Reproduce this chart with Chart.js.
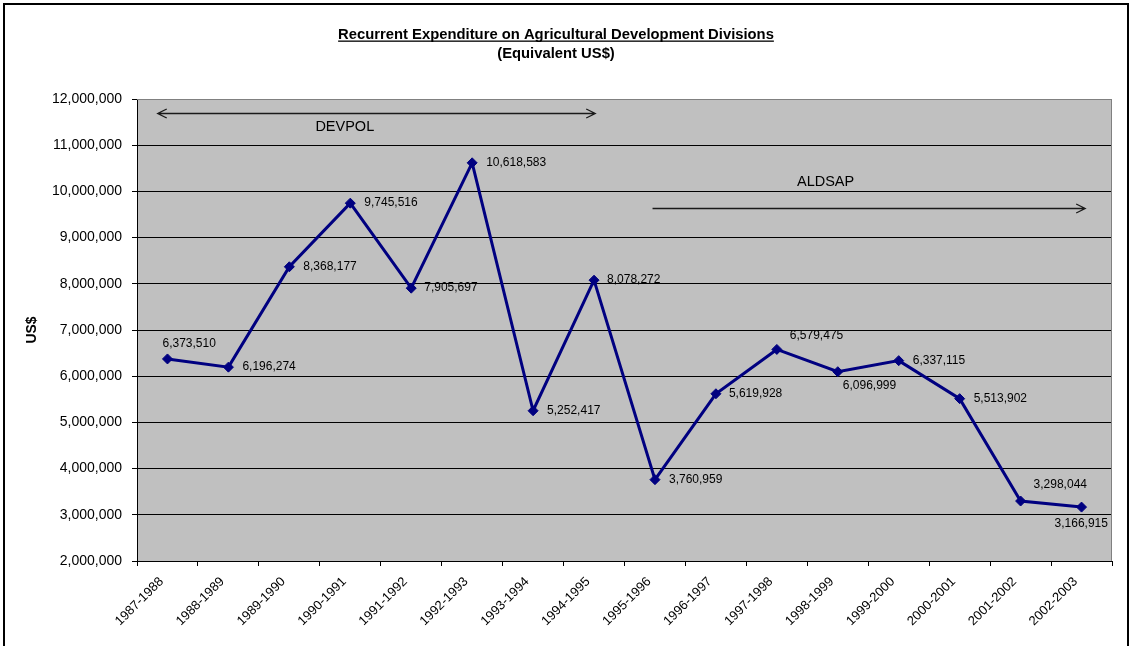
<!DOCTYPE html>
<html>
<head>
<meta charset="utf-8">
<title>Recurrent Expenditure on Agricultural Development Divisions</title>
<script src="https://cdn.jsdelivr.net/npm/chart.js@4.4.1/dist/chart.umd.min.js"></script>
<style>
	html, body { margin: 0; padding: 0; background: #fff; }
	#wrap { width: 1133px; height: 646px; }
</style>
</head>
<body>
<div id="wrap"><canvas id="graficoDespesa" width="1133" height="646"></canvas></div>
<script>
var periodos = ['1987-1988', '1988-1989', '1989-1990', '1990-1991', '1991-1992', '1992-1993',
	'1993-1994', '1994-1995', '1995-1996', '1996-1997', '1997-1998', '1998-1999',
	'1999-2000', '2000-2001', '2001-2002', '2002-2003'];
var despesas = [6373510, 6196274, 8368177, 9745516, 7905697, 10618583, 5252417, 8078272,
	3760959, 5619928, 6579475, 6096999, 6337115, 5513902, 3298044, 3166915];
var eixoY = { min: 2000000, max: 12000000, passo: 1000000 };
var titulo = 'Recurrent Expenditure on Agricultural Development Divisions';
var subtitulo = '(Equivalent US$)';
var tituloEixoY = 'US$';
var periodosPrograma = [
	{ nome: 'DEVPOL', inicio: -0.16, fim: 7.02, nivelSeta: 11700000, xTexto: 2.91, nivelTexto: 11390000, duasPontas: true },
	{ nome: 'ALDSAP', inicio: 7.96, fim: 15.06, nivelSeta: 9640000, xTexto: 10.80, nivelTexto: 10200000, duasPontas: false }
];

// deslocamento (px) do rotulo de cada ponto: [dx, dy]
var deslocRotulo = [[-5, -15], [14, 0], [14, 0], [14, 0], [13, 0], [14, 0], [14, 0], [13, 0],
	[14, 0], [13, 0], [13, -14], [5, 14], [14, 0], [14, 0], [13, -16], [-27, 17]];

var FONTE = '"Liberation Sans", Arial, sans-serif';

function formatar(v) {
	return v.toLocaleString('en-US');
}

var pluginFundo = {
	id: 'fundo',
	beforeDraw: function(chart) {
		var ctx = chart.ctx, a = chart.chartArea;
		ctx.save();
		ctx.fillStyle = '#c0c0c0';
		ctx.fillRect(a.left, a.top, a.right - a.left, a.bottom - a.top);
		ctx.restore();
	},
	afterDraw: function(chart) {
		var ctx = chart.ctx, a = chart.chartArea;
		ctx.save();
		// borda cinza superior/direita da area
		ctx.strokeStyle = '#808080';
		ctx.lineWidth = 1;
		ctx.beginPath();
		ctx.moveTo(a.left, a.top + 0.5);
		ctx.lineTo(a.right - 0.5, a.top + 0.5);
		ctx.lineTo(a.right - 0.5, a.bottom);
		ctx.stroke();

		// moldura externa
		ctx.strokeStyle = '#000';
		ctx.lineWidth = 2;
		ctx.strokeRect(4, 4, 1124, 660);

		// titulo
		ctx.fillStyle = '#000';
		ctx.textAlign = 'center';
		ctx.textBaseline = 'alphabetic';
		ctx.font = 'bold 14.8px ' + FONTE;
		var cx = 556;
		ctx.fillText(titulo, cx, 39);
		var w = ctx.measureText(titulo).width;
		ctx.fillRect(cx - w / 2, 40.5, w, 1.3);
		ctx.fillText(subtitulo, cx, 58);
		ctx.restore();
	}
};

var pluginRotulos = {
	id: 'rotulos',
	afterDatasetsDraw: function(chart) {
		var ctx = chart.ctx;
		var meta = chart.getDatasetMeta(0);
		ctx.save();
		ctx.font = '12px ' + FONTE;
		ctx.fillStyle = '#000';
		ctx.textAlign = 'left';
		ctx.textBaseline = 'middle';
		meta.data.forEach(function(ponto, i) {
			var d = deslocRotulo[i];
			ctx.fillText(formatar(despesas[i]), ponto.x + d[0], ponto.y + d[1]);
		});
		ctx.restore();
	}
};

var pluginSetas = {
	id: 'setas',
	afterDatasetsDraw: function(chart) {
		var ctx = chart.ctx, x = chart.scales.x, y = chart.scales.y;
		ctx.save();
		ctx.strokeStyle = '#1a1a1a';
		ctx.lineWidth = 1.3;
		ctx.fillStyle = '#000';
		ctx.font = '14.5px ' + FONTE;
		ctx.textAlign = 'center';
		ctx.textBaseline = 'middle';
		periodosPrograma.forEach(function(p) {
			var x1 = x.getPixelForValue(p.inicio), x2 = x.getPixelForValue(p.fim);
			var yy = Math.round(y.getPixelForValue(p.nivelSeta)) + 0.5;
			ctx.beginPath();
			ctx.moveTo(x1, yy);
			ctx.lineTo(x2, yy);
			ctx.moveTo(x2 - 9, yy - 4.5);
			ctx.lineTo(x2, yy);
			ctx.lineTo(x2 - 9, yy + 4.5);
			if (p.duasPontas) {
				ctx.moveTo(x1 + 9, yy - 4.5);
				ctx.lineTo(x1, yy);
				ctx.lineTo(x1 + 9, yy + 4.5);
			}
			ctx.stroke();
			ctx.fillText(p.nome, x.getPixelForValue(p.xTexto), y.getPixelForValue(p.nivelTexto));
		});
		ctx.restore();
	}
};

Chart.defaults.font.family = FONTE;
Chart.defaults.color = '#000';

var grafico = new Chart(document.getElementById('graficoDespesa').getContext('2d'), {
	type: 'line',
	data: {
		labels: periodos,
		datasets: [{
			label: 'Recurrent Expenditure',
			data: despesas,
			borderColor: '#000080',
			backgroundColor: '#000080',
			borderWidth: 3,
			pointStyle: 'rectRot',
			pointRadius: 5,
			pointBorderWidth: 1,
			pointBackgroundColor: '#000080',
			pointBorderColor: '#000080',
			tension: 0,
			fill: false
		}]
	},
	options: {
		responsive: false,
		animation: false,
		devicePixelRatio: 1,
		layout: { padding: { top: 99, left: 0, right: 21, bottom: 0 } },
		plugins: {
			legend: { display: false },
			tooltip: { enabled: false }
		},
		scales: {
			x: {
				offset: true,
				grid: { display: true, drawOnChartArea: false, drawTicks: true, tickLength: 5, tickColor: '#000', offset: true },
				border: { color: '#000', width: 1 },
				ticks: { font: { size: 13 }, minRotation: 45, maxRotation: 45, padding: 8, labelOffset: -6, autoSkip: false },
				afterFit: function(s) { s.height = 85; }
			},
			y: {
				min: eixoY.min,
				max: eixoY.max,
				grid: {
					color: function(c) { return c.tick && c.tick.value === eixoY.max ? '#808080' : '#000'; },
					lineWidth: 1,
					tickLength: 5,
					tickColor: '#000'
				},
				border: { color: '#000', width: 1 },
				ticks: {
					stepSize: eixoY.passo,
					font: { size: 14 },
					padding: 10,
					callback: function(v) { return formatar(v); }
				},
				title: {
					display: true,
					text: tituloEixoY,
					font: { size: 14, weight: 'bold' },
					padding: { top: 24, bottom: 0 }
				},
				afterFit: function(s) { s.width = 137; }
			}
		}
	},
	plugins: [pluginFundo, pluginRotulos, pluginSetas]
});
</script>
</body>
</html>
